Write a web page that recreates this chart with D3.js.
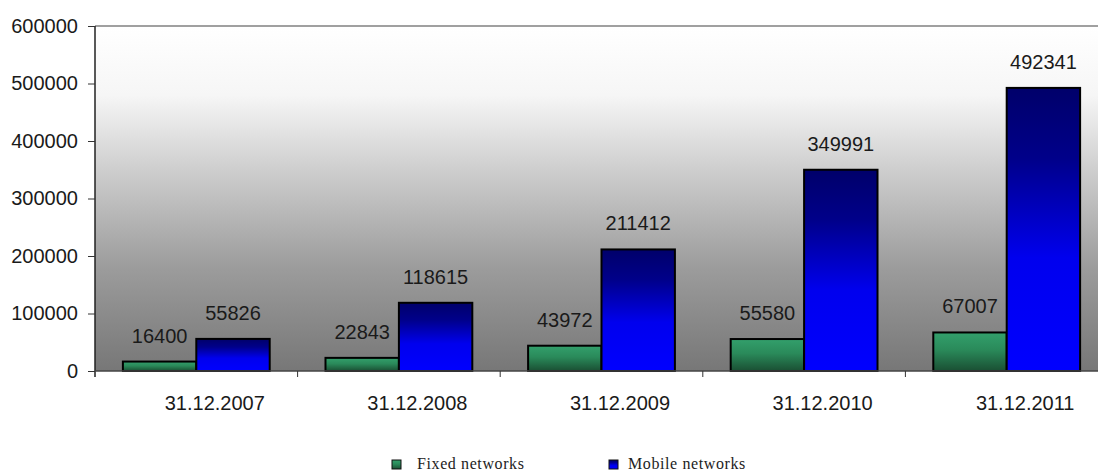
<!DOCTYPE html>
<html>
<head>
<meta charset="utf-8">
<script src="https://cdn.jsdelivr.net/npm/d3@7"></script>
<style>
  html, body { margin: 0; padding: 0; background: #ffffff; }
  svg { display: block; }
</style>
</head>
<body>
<svg id="chart" width="1098" height="474"></svg>
<script>
// Subscribers at year end: fixed vs mobile networks
const categories = ["31.12.2007", "31.12.2008", "31.12.2009", "31.12.2010", "31.12.2011"];
const seriesNames = ["Fixed networks", "Mobile networks"];
const fixedValues = [16400, 22843, 43972, 55580, 67007];
const mobileValues = [55826, 118615, 211412, 349991, 492341];
const yTicks = [0, 100000, 200000, 300000, 400000, 500000, 600000];

const svg = d3.select("#chart");
const W = 1098, H = 474;
const plot = { left: 95, right: 1108, top: 26, bottom: 371 };

const rows = categories.map((c, i) => ({
  category: c,
  values: [
    { series: seriesNames[0], value: fixedValues[i] },
    { series: seriesNames[1], value: mobileValues[i] }
  ]
}));

const x = d3.scaleBand().domain(categories).range([plot.left, plot.right]).padding(0);
const xSub = d3.scaleBand().domain(seriesNames).range([0, x.bandwidth()])
  .paddingInner(0).paddingOuter(0.38);
const y = d3.scaleLinear().domain([0, 600000]).range([plot.bottom, plot.top]);

// gradients
const defs = svg.append("defs");
const bgGrad = defs.append("linearGradient").attr("id", "bgGrad")
  .attr("x1", 0).attr("y1", 0).attr("x2", 0).attr("y2", 1);
[["0%", "#ffffff"], ["20%", "#f6f6f6"], ["45%", "#c8c8c8"], ["70%", "#9c9c9c"], ["100%", "#777777"]]
  .forEach(([o, c]) => bgGrad.append("stop").attr("offset", o).attr("stop-color", c));

const greenGrad = defs.append("linearGradient").attr("id", "greenGrad")
  .attr("x1", 0).attr("y1", 0).attr("x2", 0).attr("y2", 1);
[["0%", "#33a06c"], ["45%", "#2a8a5a"], ["100%", "#1a4f33"]]
  .forEach(([o, c]) => greenGrad.append("stop").attr("offset", o).attr("stop-color", c));

const blueGrad = defs.append("linearGradient").attr("id", "blueGrad")
  .attr("x1", 0).attr("y1", 0).attr("x2", 0).attr("y2", 1);
[["0%", "#00006a"], ["25%", "#00008a"], ["60%", "#0000ee"], ["100%", "#0000ff"]]
  .forEach(([o, c]) => blueGrad.append("stop").attr("offset", o).attr("stop-color", c));

const fills = { "Fixed networks": "url(#greenGrad)", "Mobile networks": "url(#blueGrad)" };

// plot background
svg.append("rect")
  .attr("x", plot.left).attr("y", plot.top)
  .attr("width", plot.right - plot.left).attr("height", plot.bottom - plot.top)
  .attr("fill", "url(#bgGrad)");

// top frame line
svg.append("line")
  .attr("x1", plot.left).attr("x2", plot.right)
  .attr("y1", plot.top).attr("y2", plot.top)
  .attr("stroke", "#808080").attr("stroke-width", 1.5);

// bars
const groups = svg.append("g").selectAll("g").data(rows).join("g")
  .attr("transform", d => `translate(${x(d.category)},0)`);

groups.selectAll("rect").data(d => d.values).join("rect")
  .attr("x", d => xSub(d.series))
  .attr("y", d => y(d.value))
  .attr("width", xSub.bandwidth())
  .attr("height", d => y(0) - y(d.value))
  .attr("fill", d => fills[d.series])
  .attr("stroke", "#000000")
  .attr("stroke-width", 2);

// value labels
groups.selectAll("text").data(d => d.values).join("text")
  .attr("x", d => xSub(d.series) + xSub.bandwidth() / 2)
  .attr("y", d => y(d.value) - 19)
  .attr("text-anchor", "middle")
  .attr("font-family", "Arial, 'Liberation Sans', sans-serif")
  .attr("font-size", 20)
  .attr("fill", "#1a1a1a")
  .text(d => d.value);

// y axis
const yAxis = d3.axisLeft(y).tickValues(yTicks).tickFormat(d => d).tickSize(7).tickPadding(10);
const yg = svg.append("g").attr("transform", `translate(${plot.left},0)`).call(yAxis);
yg.select(".domain").attr("stroke", "#222").attr("stroke-width", 1.5)
  .attr("d", `M0,${plot.top}V${plot.bottom + 6}`);
yg.selectAll(".tick line").attr("stroke", "#333");
yg.selectAll(".tick text")
  .attr("font-family", "Arial, 'Liberation Sans', sans-serif")
  .attr("font-size", 20).attr("fill", "#1a1a1a");

// x axis: baseline, boundary ticks and category labels
svg.append("line")
  .attr("x1", plot.left).attr("x2", plot.right)
  .attr("y1", plot.bottom).attr("y2", plot.bottom)
  .attr("stroke", "#444").attr("stroke-width", 1.5);

svg.append("g").selectAll("line").data(categories.slice(1)).join("line")
  .attr("x1", d => x(d)).attr("x2", d => x(d))
  .attr("y1", plot.bottom).attr("y2", plot.bottom + 6)
  .attr("stroke", "#333").attr("stroke-width", 1);

svg.append("g").selectAll("text").data(categories).join("text")
  .attr("x", d => x(d) + x.bandwidth() / 2 + 18.5)
  .attr("y", 410)
  .attr("text-anchor", "middle")
  .attr("font-family", "Arial, 'Liberation Sans', sans-serif")
  .attr("font-size", 20)
  .attr("fill", "#1a1a1a")
  .text(d => d);

// legend
const legendX = [392, 609];
const legend = svg.append("g").selectAll("g").data(seriesNames).join("g")
  .attr("transform", (d, i) => `translate(${legendX[i]},460)`);
legend.append("rect")
  .attr("width", 9).attr("height", 9)
  .attr("fill", d => fills[d])
  .attr("stroke", "#111").attr("stroke-width", 1);
legend.append("text")
  .attr("x", d => d === seriesNames[0] ? 25 : 19)
  .attr("y", 9)
  .attr("font-family", "'Times New Roman', 'Liberation Serif', serif")
  .attr("font-size", 16)
  .attr("letter-spacing", 0.6)
  .attr("fill", "#222")
  .text(d => d);
</script>
</body>
</html>
